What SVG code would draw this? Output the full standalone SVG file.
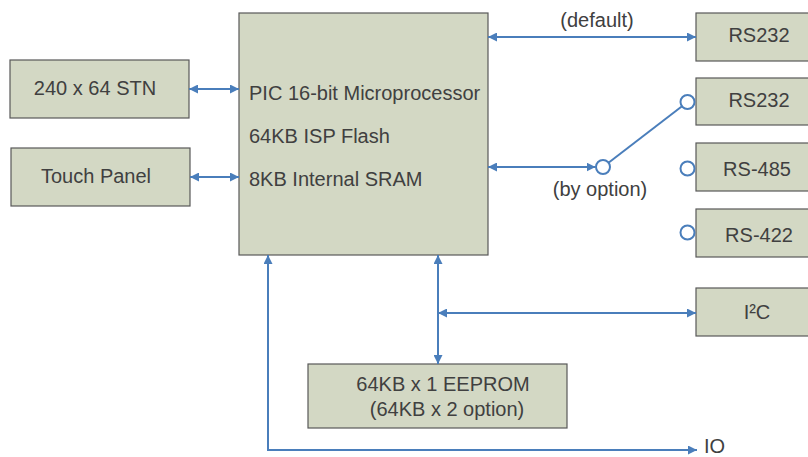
<svg xmlns="http://www.w3.org/2000/svg" width="808" height="457" viewBox="0 0 808 457">
<style>
.box{fill:#d3d8c4;stroke:#595959;stroke-width:1.2}
.t{font-family:"Liberation Sans",Arial,sans-serif;font-size:20px;fill:#404040}
.m{text-anchor:middle}
.c{fill:none;stroke:#4a7ebb;stroke-width:2}
.o{fill:#ffffff;stroke:#4a7ebb;stroke-width:2}
</style>
<defs>
<marker id="ah" viewBox="0 0 9 9" refX="9" refY="4.5" markerWidth="9" markerHeight="9" markerUnits="userSpaceOnUse" orient="auto-start-reverse">
<path d="M0,0 L9,4.5 L0,9 z" fill="#4a7ebb"/>
</marker>
</defs>
<rect width="808" height="457" fill="#ffffff"/>
<g id="mcu"><rect class="box" x="239" y="13" width="249" height="242"/>
<text class="t" x="249" y="100">PIC 16-bit Microprocessor</text>
<text class="t" x="249" y="143">64KB ISP Flash</text>
<text class="t" x="249" y="186">8KB Internal SRAM</text></g>
<g id="stn"><rect class="box" x="10" y="60" width="179" height="58"/><text class="t m" x="95" y="95">240 x 64 STN</text></g>
<g id="touch"><rect class="box" x="11" y="148" width="179" height="58"/><text class="t m" x="96" y="183">Touch Panel</text></g>
<g id="rs232a"><rect class="box" x="696" y="13" width="130" height="48"/><text class="t m" x="759" y="42">RS232</text></g>
<g id="rs232b"><rect class="box" x="696" y="78" width="130" height="47"/><text class="t m" x="759" y="107">RS232</text></g>
<g id="rs485"><rect class="box" x="696" y="143" width="130" height="48"/><text class="t m" x="757" y="176">RS-485</text></g>
<g id="rs422"><rect class="box" x="696" y="209" width="130" height="48"/><text class="t m" x="759" y="242">RS-422</text></g>
<g id="i2c"><rect class="box" x="696" y="288" width="130" height="48"/><text class="t m" x="757" y="319">I²C</text></g>
<g id="eeprom"><rect class="box" x="308" y="364" width="259" height="64"/>
<text class="t m" x="443" y="391">64KB x 1 EEPROM</text>
<text class="t m" x="447" y="416">(64KB x 2 option)</text></g>
<g id="labels">
<text class="t m" x="597" y="27">(default)</text>
<text class="t m" x="600" y="196">(by option)</text>
<text class="t" x="704" y="452.5">IO</text>
</g>
<g id="connectors">
<line class="c" x1="189" y1="89" x2="239" y2="89" marker-start="url(#ah)" marker-end="url(#ah)"/>
<line class="c" x1="190" y1="177" x2="239" y2="177" marker-start="url(#ah)" marker-end="url(#ah)"/>
<line class="c" x1="488" y1="37" x2="696" y2="37" marker-start="url(#ah)" marker-end="url(#ah)"/>
<line class="c" x1="488" y1="167" x2="595.5" y2="167" marker-start="url(#ah)" marker-end="url(#ah)"/>
<line class="c" x1="608.5" y1="162.7" x2="682" y2="106.3"/>
<line class="c" x1="438" y1="255" x2="438" y2="364" marker-start="url(#ah)" marker-end="url(#ah)"/>
<line class="c" x1="438" y1="313" x2="696" y2="313" marker-start="url(#ah)" marker-end="url(#ah)"/>
<path class="c" d="M268,255 V450 H697" marker-start="url(#ah)" marker-end="url(#ah)"/>
<circle class="o" cx="603" cy="167" r="7"/>
<circle class="o" cx="687.5" cy="102" r="7"/>
<circle class="o" cx="687.5" cy="168.5" r="7"/>
<circle class="o" cx="687.5" cy="232.5" r="7"/>
</g>
</svg>
